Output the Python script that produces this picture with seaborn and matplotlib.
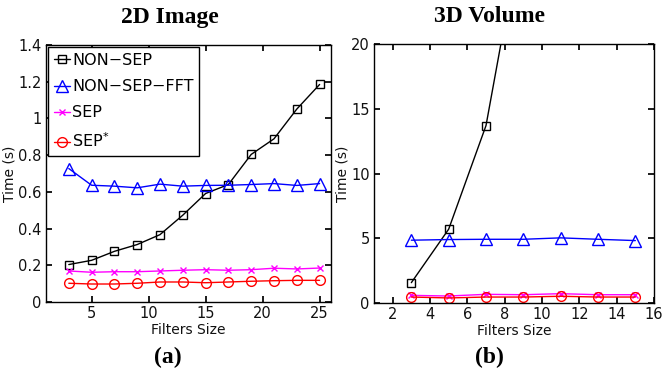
import matplotlib
matplotlib.use('Agg')
import matplotlib.pyplot as plt
from matplotlib.ticker import FuncFormatter, MultipleLocator
import seaborn as sns
import pandas as pd

# filter sizes
sizes_2d = [3, 5, 7, 9, 11, 13, 15, 17, 19, 21, 23, 25]
sizes_3d = [3, 5, 7, 9, 11, 13, 15]

# 2D image timings (s)
nonsep_2d = [0.204, 0.227, 0.276, 0.313, 0.367, 0.473, 0.591, 0.640, 0.804, 0.889, 1.051, 1.185]
fft_2d = [0.727, 0.636, 0.631, 0.622, 0.642, 0.631, 0.635, 0.636, 0.640, 0.645, 0.635, 0.645]
sep_2d = [0.169, 0.162, 0.165, 0.165, 0.169, 0.173, 0.176, 0.173, 0.176, 0.184, 0.180, 0.185]
sepstar_2d = [0.102, 0.098, 0.098, 0.102, 0.109, 0.109, 0.105, 0.109, 0.113, 0.116, 0.118, 0.118]

# 3D volume timings (s)
sizes_3d_nonsep = [3, 5, 7, 9]
nonsep_3d = [1.57, 5.7, 13.7, 29.5]
fft_3d = [4.85, 4.90, 4.92, 4.92, 5.03, 4.92, 4.82]
sep_3d = [0.59, 0.54, 0.67, 0.64, 0.72, 0.64, 0.64]
sepstar_3d = [0.46, 0.39, 0.46, 0.46, 0.52, 0.46, 0.46]

labels = ['NON\u2212SEP', 'NON\u2212SEP\u2212FFT', 'SEP', 'SEP$^{*}$']
colors = ['#000000', '#0000ff', '#ff00ff', '#ff0000']
markers = ['s', '^', 'x', 'o']
msizes = [5.5, 8, 5, 7]

sns.set_theme(style='ticks', rc={
    'xtick.direction': 'in', 'ytick.direction': 'in',
    'xtick.top': True, 'ytick.right': True,
    'axes.linewidth': 1.0,
    'xtick.major.size': 4, 'ytick.major.size': 4,
    'xtick.labelsize': 10.5, 'ytick.labelsize': 10.5,
    'axes.labelsize': 10,
    'text.color': 'black', 'axes.labelcolor': '#111111',
})
plt.rcParams['font.family'] = ['DejaVu Sans']

fig = plt.figure(figsize=(6.63, 3.79), dpi=100)
ax1 = fig.add_axes([46 / 663, 77 / 379, 285 / 663, 257 / 379])
ax2 = fig.add_axes([374 / 663, 76 / 379, 280 / 663, 259 / 379])


def draw(ax, xs_list, ys_list):
    for xs, ys, lab, c, m, ms in zip(xs_list, ys_list, labels, colors, markers, msizes):
        df = pd.DataFrame({'size': xs, 'time': ys})
        sns.lineplot(data=df, x='size', y='time', ax=ax, color=c, marker=m,
                     markersize=ms, mfc='none', mec=c, mew=1, lw=1,
                     label=lab, legend=False)


draw(ax1, [sizes_2d] * 4, [nonsep_2d, fft_2d, sep_2d, sepstar_2d])
draw(ax2, [sizes_3d_nonsep, sizes_3d, sizes_3d, sizes_3d],
     [nonsep_3d, fft_3d, sep_3d, sepstar_3d])

fmt = FuncFormatter(lambda v, p: '%g' % round(v, 6))
ax1.set_xlim(1, 26)
ax1.set_ylim(0, 1.4)
ax1.xaxis.set_major_locator(MultipleLocator(5))
ax1.yaxis.set_major_locator(MultipleLocator(0.2))
ax2.set_xlim(1, 16)
ax2.set_ylim(0, 20)
ax2.xaxis.set_major_locator(MultipleLocator(2))
ax2.yaxis.set_major_locator(MultipleLocator(5))
for ax in (ax1, ax2):
    ax.yaxis.set_major_formatter(fmt)
    ax.xaxis.set_major_formatter(fmt)
    ax.set_xlabel('Filters Size', labelpad=1)
    ax.set_ylabel('Time (s)', labelpad=1)
    ax.tick_params(pad=3, colors='black', labelcolor='#111111',
                   top=True, right=True, direction='in')
    for s in ax.spines.values():
        s.set_color('black')

leg = ax1.legend(loc='upper left', fontsize=11.5, fancybox=False, framealpha=1,
                 edgecolor='black', handlelength=1.0, handletextpad=0.15,
                 borderpad=0.35, labelspacing=0.7, borderaxespad=0.15)
leg.get_frame().set_linewidth(1.0)
for t in leg.get_texts():
    t.set_color('black')

tfont = dict(family='Liberation Serif', weight='bold', size=17, ha='center',
             color='black')
fig.text(170 / 663, 1 - 17 / 379, '2D Image', va='center', **tfont)
fig.text(489 / 663, 1 - 17 / 379, '3D Volume', va='center', **tfont)
fig.text(168 / 663, 1 - 357 / 379, '(a)', va='center', **tfont)
fig.text(489 / 663, 1 - 357 / 379, '(b)', va='center', **tfont)

fig.savefig('out.png', dpi=100)
